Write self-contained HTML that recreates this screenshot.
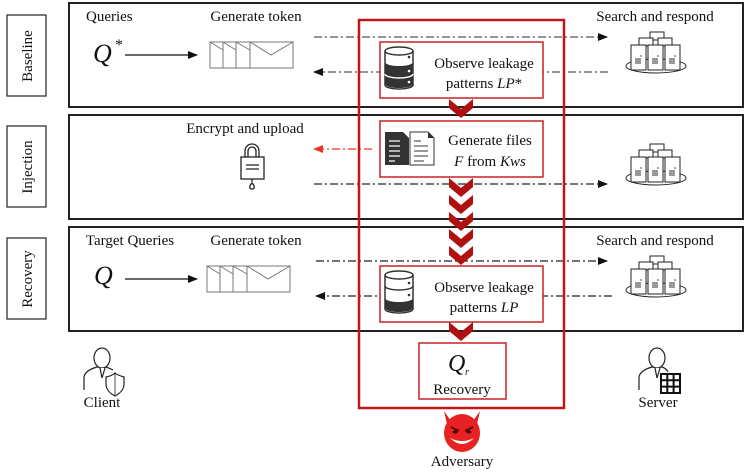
<!DOCTYPE html>
<html><head><meta charset="utf-8"><style>
html,body{margin:0;padding:0;background:#fff}
svg{display:block}
text{font-family:"Liberation Serif",serif;font-size:15px;fill:#111}
</style></head><body>
<svg width="748" height="473" viewBox="0 0 748 473" xmlns="http://www.w3.org/2000/svg">
<defs>
<marker id="ab" markerWidth="10" markerHeight="8" refX="9" refY="4" orient="auto" markerUnits="userSpaceOnUse"><path d="M0,0 L10,4 L0,8 z" fill="#111"/></marker>
<marker id="ar" markerWidth="10" markerHeight="8" refX="9" refY="4" orient="auto" markerUnits="userSpaceOnUse"><path d="M0,0 L10,4 L0,8 z" fill="#e32"/></marker>
<g id="srv">
<ellipse cx="30" cy="34" rx="30" ry="7" fill="#fff" stroke="#222" stroke-width="1"/>
<rect x="24" y="0" width="14" height="8" fill="#fff" stroke="#222"/>
<rect x="13" y="6" width="14" height="8" fill="#fff" stroke="#222"/>
<rect x="32" y="6" width="14" height="8" fill="#fff" stroke="#222"/>
<rect x="5" y="13" width="15" height="25" fill="#fff" stroke="#222"/>
<rect x="22" y="13" width="15" height="25" fill="#fff" stroke="#222"/>
<rect x="39" y="13" width="15" height="25" fill="#fff" stroke="#222"/>
<g stroke="#333"><path d="M9,27h6M9,29h6M9,31h6M26,27h6M26,29h6M26,31h6M43,27h6M43,29h6M43,31h6"/></g>
<g fill="#36c"><circle cx="15" cy="24" r="0.9"/><circle cx="32" cy="24" r="0.9"/><circle cx="49" cy="24" r="0.9"/></g>
</g>
<g id="env" fill="none" stroke="#777" stroke-width="1">
<rect x="0" y="0" width="83" height="26"/>
<path d="M13,0v26M26,0v26M40,0v26M0,0l13,8M13,0l13,8M26,0l14,8M40,0l21,13l22,-13"/>
</g>
<g id="chev"><path d="M-12,0 L0,10 L12,0 L12,9 L0,19 L-12,9z" fill="#b01010"/></g>
</defs>

<rect x="7" y="15" width="39" height="81" fill="#fff" stroke="#222" stroke-width="1.2"/>
<text transform="translate(32,56) rotate(-90)" text-anchor="middle">Baseline</text>
<rect x="7" y="126" width="39" height="81" fill="#fff" stroke="#222" stroke-width="1.2"/>
<text transform="translate(32,167) rotate(-90)" text-anchor="middle">Injection</text>
<rect x="7" y="238" width="39" height="81" fill="#fff" stroke="#222" stroke-width="1.2"/>
<text transform="translate(32,279) rotate(-90)" text-anchor="middle">Recovery</text>

<rect x="69" y="3" width="674" height="104" fill="none" stroke="#222" stroke-width="2"/>
<rect x="69" y="115" width="674" height="104" fill="none" stroke="#222" stroke-width="2"/>
<rect x="69" y="227" width="674" height="104" fill="none" stroke="#222" stroke-width="2"/>

<text x="86" y="21">Queries</text>
<text x="256" y="21" text-anchor="middle">Generate token</text>
<text x="655" y="21" text-anchor="middle">Search and respond</text>
<text x="93" y="62" style="font-size:26px;font-style:italic">Q</text>
<text x="115" y="50" style="font-size:16px">*</text>
<line x1="125" y1="55" x2="197" y2="55" stroke="#111" stroke-width="1.3" marker-end="url(#ab)"/>
<use href="#env" x="210" y="42"/>
<line x1="314" y1="37" x2="607" y2="37" stroke="#555" stroke-width="1.2" stroke-dasharray="8,3,2,3" marker-end="url(#ab)"/>
<line x1="608" y1="72" x2="314" y2="72" stroke="#555" stroke-width="1.2" stroke-dasharray="8,3,2,3" marker-end="url(#ab)"/>
<use href="#srv" x="626" y="32"/>

<text x="245" y="133" text-anchor="middle">Encrypt and upload</text>
<g stroke="#222" stroke-width="1.3" fill="#fff">
<path d="M245,157 v-6 a7,7 0 0 1 14,0 v6" fill="none"/>
<path d="M248,157 v-6 a4,4 0 0 1 8,0 v6" fill="none"/>
<rect x="241" y="157" width="23" height="22"/>
<path d="M246,165h13M246,169h13"/>
<path d="M252,179v3"/>
<path d="M252,183 c-3,3 -3,6 0,6 c3,0 3,-3 0,-6z"/>
</g>
<line x1="372" y1="149" x2="314" y2="149" stroke="#e33" stroke-width="1.2" stroke-dasharray="8,3,2,3" marker-end="url(#ar)"/>
<line x1="314" y1="184" x2="607" y2="184" stroke="#222" stroke-width="1.2" stroke-dasharray="8,3,2,3" marker-end="url(#ab)"/>
<use href="#srv" x="626" y="144"/>

<text x="130" y="245" text-anchor="middle">Target Queries</text>
<text x="256" y="245" text-anchor="middle">Generate token</text>
<text x="655" y="245" text-anchor="middle">Search and respond</text>
<text x="94" y="284" style="font-size:26px;font-style:italic">Q</text>
<line x1="125" y1="279" x2="197" y2="279" stroke="#111" stroke-width="1.3" marker-end="url(#ab)"/>
<use href="#env" x="207" y="266"/>
<line x1="316" y1="261" x2="607" y2="261" stroke="#222" stroke-width="1.2" stroke-dasharray="8,3,2,3" marker-end="url(#ab)"/>
<line x1="612" y1="296" x2="316" y2="296" stroke="#222" stroke-width="1.2" stroke-dasharray="8,3,2,3" marker-end="url(#ab)"/>
<use href="#srv" x="626" y="256"/>

<rect x="359" y="20" width="205" height="388" fill="none" stroke="#c01818" stroke-width="2.5"/>
<rect x="380" y="42" width="163" height="56" fill="#fff" stroke="#c82020" stroke-width="1.5"/>
<g transform="translate(385,47)">
<path d="M0,4 a14,4 0 0 1 28,0 v34 a14,4 0 0 1 -28,0z" fill="#fff" stroke="#333" stroke-width="1.5"/>
<path d="M0,15 a14,4 0 0 0 28,0 v22 a14,4 0 0 1 -28,0z" fill="#333"/>
<path d="M0,4 a14,4 0 0 0 28,0" fill="none" stroke="#333" stroke-width="1.5"/>
<circle cx="24" cy="10" r="1.3" fill="#333"/><circle cx="24" cy="24" r="1.3" fill="#fff"/><circle cx="24" cy="35" r="1.3" fill="#fff"/>
<path d="M0,27 a14,4 0 0 0 28,0" fill="none" stroke="#fff" stroke-width="1.5"/>
</g>
<text x="484" y="68" text-anchor="middle">Observe leakage</text>
<text x="484" y="88" text-anchor="middle">patterns <tspan font-style="italic">LP</tspan>*</text>
<use href="#chev" x="461" y="99"/>

<rect x="380" y="121" width="163" height="56" fill="#fff" stroke="#c82020" stroke-width="1.5"/>
<path d="M385,132 h18 l6,6 v27 h-24z" fill="#333"/>
<path d="M389,141h11M389,146h11M389,151h11M389,156h11M389,161h6" stroke="#fff" stroke-width="1.2"/>
<path d="M410,132 h18 l6,6 v27 h-24z" fill="#fff" stroke="#333" stroke-width="1"/>
<path d="M428,132 v6 h6z" fill="#333"/>
<path d="M414,141h7M414,146h14M414,151h14M414,156h14M414,161h10" stroke="#333" stroke-width="1"/>
<text x="490" y="145" text-anchor="middle">Generate files</text>
<text x="490" y="166" text-anchor="middle"><tspan font-style="italic">F</tspan> from <tspan font-style="italic">Kws</tspan></text>
<use href="#chev" x="461" y="178"/>
<use href="#chev" x="461" y="195"/>
<use href="#chev" x="461" y="212"/>
<use href="#chev" x="461" y="229"/>
<use href="#chev" x="461" y="246"/>

<rect x="380" y="266" width="163" height="56" fill="#fff" stroke="#c82020" stroke-width="1.5"/>
<g transform="translate(385,271)">
<path d="M0,4 a14,4 0 0 1 28,0 v34 a14,4 0 0 1 -28,0z" fill="#fff" stroke="#333" stroke-width="1.5"/>
<path d="M0,27 a14,4 0 0 0 28,0 v10 a14,4 0 0 1 -28,0z" fill="#333"/>
<path d="M0,4 a14,4 0 0 0 28,0 M0,15 a14,4 0 0 0 28,0" fill="none" stroke="#333" stroke-width="1.5"/>
<circle cx="24" cy="12" r="1.3" fill="#333"/><circle cx="24" cy="24" r="1.3" fill="#333"/>
</g>
<text x="484" y="292" text-anchor="middle">Observe leakage</text>
<text x="484" y="312" text-anchor="middle">patterns <tspan font-style="italic">LP</tspan></text>
<use href="#chev" x="461" y="322"/>

<rect x="419" y="343" width="87" height="56" fill="#fff" stroke="#c82020" stroke-width="1.5"/>
<text x="448" y="371" style="font-size:24px;font-style:italic">Q</text>
<text x="465" y="375" style="font-size:10px;font-style:italic">r</text>
<text x="462" y="394" text-anchor="middle">Recovery</text>

<g stroke="#222" stroke-width="1.2" fill="#fff">
<path d="M84,390 v-12 c0,-6 6,-9 13,-11 h9 c3,1 5,2 7,3"/>
<ellipse cx="102" cy="358" rx="8" ry="10"/>
<path d="M100,368 l2,10 l3,-10"/>
<path d="M106,377 c5,-1 8,-3 9,-4 c1,1 5,3 9,4 v7 c0,6 -5,10 -9,12 c-4,-2 -9,-6 -9,-12z"/>
<path d="M115,373 v23" stroke-width="0.8"/>
</g>
<text x="102" y="407" text-anchor="middle">Client</text>

<g stroke="#222" stroke-width="1.2" fill="#fff">
<path d="M639,390 v-12 c0,-6 6,-9 13,-11 h10 c3,1 5,3 6,5"/>
<ellipse cx="657" cy="358" rx="8" ry="10"/>
<path d="M655,368 l2,10 l3,-10"/>
</g>
<rect x="661" y="374" width="19" height="19" fill="#fff" stroke="#111" stroke-width="2"/>
<path d="M667.3,374v19M673.6,374v19M661,380.3h19M661,386.6h19" stroke="#111" stroke-width="2"/>
<text x="658" y="407" text-anchor="middle">Server</text>

<g>
<path d="M444,411 l7,10 l-4,3z M480,411 l-7,10 l4,3z" fill="#e02020"/>
<ellipse cx="462" cy="433" rx="18" ry="19" fill="#e82222"/>
<path d="M451,427 l8,4 M473,427 l-8,4" stroke="#600" stroke-width="2"/>
<ellipse cx="455" cy="432" rx="2.5" ry="1.5" fill="#300"/><ellipse cx="469" cy="432" rx="2.5" ry="1.5" fill="#300"/>
<path d="M450,438 q12,12 24,0 q-12,6 -24,0z" fill="#fff"/>
</g>
<text x="462" y="466" text-anchor="middle">Adversary</text>
</svg>
</body></html>
